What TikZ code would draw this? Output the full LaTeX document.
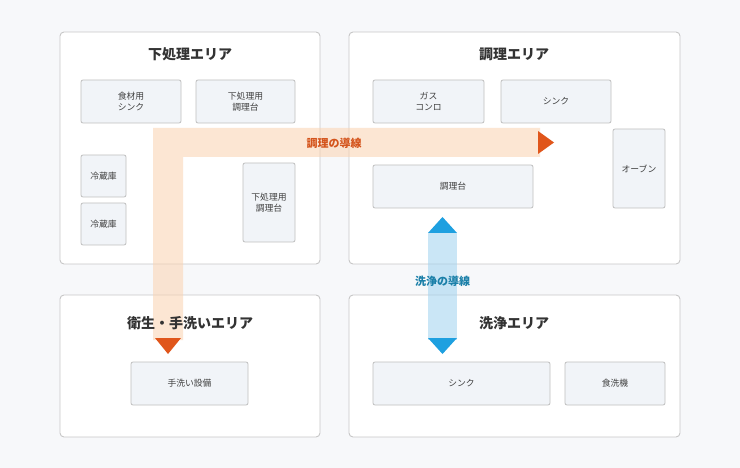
\documentclass[tikz,border=0pt]{standalone}
\usepackage{fontspec}
\setmainfont{Noto Sans CJK JP}
\begin{document}
\begin{tikzpicture}[x=1pt,y=-1pt,
 panel/.style={draw=black!22,fill=white,rounded corners=4pt,line width=0.9pt},
 ttl/.style={font=\fontsize{14}{16}\selectfont\bfseries,text=black!80},
 lbl/.style={font=\fontsize{8.8}{11}\selectfont,text=black!75,align=center}]
\definecolor{bg}{HTML}{F7F8FA}
\definecolor{itemfill}{HTML}{F1F4F8}
\definecolor{oband}{HTML}{FBD3B0}
\definecolor{otri}{HTML}{E0561B}
\definecolor{otxt}{HTML}{D4541C}
\definecolor{bband}{HTML}{9FD3F0}
\definecolor{btri}{HTML}{1EA0E0}
\definecolor{btxt}{HTML}{1A7FA8}
\tikzset{item/.style={draw=black!25,fill=itemfill,rounded corners=2pt,line width=0.8pt}}
\fill[bg] (0,0) rectangle (740,468);
\useasboundingbox (0,0) rectangle (740,468);
% panels
\draw[panel] (60,32) rectangle (320,264);
\draw[panel] (349,32) rectangle (680,264);
\draw[panel] (60,295) rectangle (320,437);
\draw[panel] (349,295) rectangle (680,437);
% items
\draw[item] (81,80) rectangle (181,123); \node[lbl] (a1) at (131,101.5) {食材用\\シンク};
\draw[item] (196,80) rectangle (295,123); \node[lbl] (a2) at (245.5,101.5) {下処理用\\調理台};
\draw[item] (81,155) rectangle (126,197); \node[lbl] (a3) at (103.5,176) {冷蔵庫};
\draw[item] (81,203) rectangle (126,245); \node[lbl] (a4) at (103.5,224) {冷蔵庫};
\draw[item] (243,163) rectangle (295,242); \node[lbl] (a5) at (269,202.5) {下処理用\\調理台};
\draw[item] (373,80) rectangle (484,123); \node[lbl] (b1) at (428.5,101.5) {ガス\\コンロ};
\draw[item] (501,80) rectangle (611,123); \node[lbl] (b2) at (556,101.5) {シンク};
\draw[item] (613,129) rectangle (665,208); \node[lbl] (b3) at (639,168.5) {オーブン};
\draw[item] (373,165) rectangle (533,208); \node[lbl] (b4) at (453,186.5) {調理台};
\draw[item] (131,362) rectangle (248,405); \node[lbl] (c1) at (189.5,383.5) {手洗い設備};
\draw[item] (373,362) rectangle (550,405); \node[lbl] (d1) at (461.5,383.5) {シンク};
\draw[item] (565,362) rectangle (665,405); \node[lbl] (d2) at (615,383.5) {食洗機};
% orange flow
\fill[oband,opacity=0.55] (153,128) -- (540,128) -- (540,157) -- (183,157) -- (183,340) -- (153,340) -- cycle;
\coordinate (oR) at (554,142.5);
\coordinate (oD) at (168,354);
\fill[otri] (538,131) -- (oR) -- (538,154) -- cycle;
\fill[otri] (155,338) -- (oD) -- (181,338) -- cycle;
\node[font=\fontsize{11}{13}\selectfont\bfseries,text=otxt] (ol) at (334,143) {調理の導線};
% blue flow
\fill[bband,opacity=0.55] (428,233) rectangle (457,340);
\coordinate (bU) at (442.5,217);
\coordinate (bD) at (442.5,354);
\fill[btri] (428,233) -- (bU) -- (457,233) -- cycle;
\fill[btri] (428,338) -- (bD) -- (457,338) -- cycle;
\node[font=\fontsize{11}{13}\selectfont\bfseries,text=btxt] (bl) at (442.5,281) {洗浄の導線};
% titles
\node[ttl] (t1) at (190,54) {下処理エリア};
\node[ttl] (t2) at (514,54) {調理エリア};
\node[ttl] (t3) at (190,323) {衛生・手洗いエリア};
\node[ttl] (t4) at (514,323) {洗浄エリア};
\end{tikzpicture}
\end{document}
